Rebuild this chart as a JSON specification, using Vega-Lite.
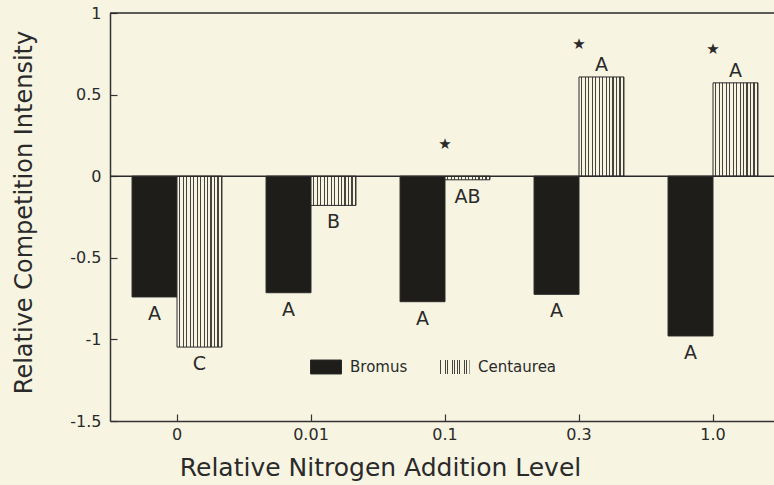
{
  "$schema": "https://vega.github.io/schema/vega-lite/v6.json",
  "autosize": {"type": "none"},
  "padding": {"left": 110, "top": 13, "right": 0, "bottom": 64},
  "width": 664,
  "height": 408,
  "background": "#f7f5e2",
  "config": {
    "view": {"stroke": null},
    "axis": {
      "labelFont": "DejaVu Sans",
      "titleFont": "DejaVu Sans",
      "labelColor": "#2a2a2a",
      "titleColor": "#2a2a2a",
      "titleFontWeight": "normal",
      "domainColor": "#333333",
      "domainWidth": 1.5,
      "tickColor": "#333333",
      "tickWidth": 1.2,
      "grid": false
    },
    "legend": {
      "title": null,
      "orient": "none",
      "direction": "horizontal",
      "padding": 0,
      "symbolType": "M-1,-0.45H1V0.45H-1Z",
      "symbolSize": 961,
      "symbolStrokeColor": "#2a2a2a",
      "symbolStrokeWidth": 1,
      "labelOffset": 8,
      "labelFont": "DejaVu Sans",
      "labelFontSize": 15,
      "labelColor": "#2a2a2a"
    },
    "text": {"font": "DejaVu Sans", "color": "#2a2a2a"}
  },
  "datasets": {
    "bars": [
      {"level": "0", "species": "Bromus", "value": -0.74, "letter": "A"},
      {"level": "0", "species": "Centaurea", "value": -1.047, "letter": "C"},
      {"level": "0.01", "species": "Bromus", "value": -0.714, "letter": "A"},
      {"level": "0.01", "species": "Centaurea", "value": -0.179, "letter": "B"},
      {"level": "0.1", "species": "Bromus", "value": -0.769, "letter": "A"},
      {"level": "0.1", "species": "Centaurea", "value": -0.022, "letter": "AB"},
      {"level": "0.3", "species": "Bromus", "value": -0.724, "letter": "A"},
      {"level": "0.3", "species": "Centaurea", "value": 0.608, "letter": "A"},
      {"level": "1.0", "species": "Bromus", "value": -0.979, "letter": "A"},
      {"level": "1.0", "species": "Centaurea", "value": 0.572, "letter": "A"}
    ],
    "stars": [
      {"level": "0.1", "star": 0.2},
      {"level": "0.3", "star": 0.812},
      {"level": "1.0", "star": 0.781}
    ],
    "frame": [
      {"y": 0},
      {"y": 1}
    ]
  },
  "layer": [
    {
      "data": {"name": "bars"},
      "transform": [{"filter": "datum.species === 'Bromus'"}],
      "mark": {"type": "bar", "stroke": "#2a2a2a", "strokeWidth": 1},
      "encoding": {
        "x": {
          "field": "level",
          "type": "nominal",
          "sort": ["0", "0.01", "0.1", "0.3", "1.0"],
          "scale": {"range": [0, 670], "paddingInner": 0, "paddingOuter": 0},
          "axis": {
            "title": "Relative Nitrogen Addition Level",
            "titleFontSize": 25,
            "titleX": 270,
            "titleY": 54,
            "titleBaseline": "alphabetic",
            "labelAngle": 0,
            "labelFontSize": 16,
            "labelPadding": 12,
            "tickSize": -7
          }
        },
        "xOffset": {
          "field": "species",
          "type": "nominal",
          "scale": {"domain": ["Bromus", "Centaurea"], "paddingInner": 0, "paddingOuter": 0.49}
        },
        "y": {
          "field": "value",
          "type": "quantitative",
          "scale": {"domain": [-1.5, 1], "nice": false, "zero": false},
          "axis": {
            "title": "Relative Competition Intensity",
            "titleFontSize": 24,
            "titleX": -79,
            "titleY": 199,
            "titleBaseline": "alphabetic",
            "values": [-1.5, -1, -0.5, 0, 0.5, 1],
            "labelExpr": "'' + datum.value",
            "labelFontSize": 16,
            "labelPadding": 16,
            "tickSize": -7
          }
        },
        "fill": {
          "field": "species",
          "type": "nominal",
          "scale": {"domain": ["Bromus"], "range": ["#1e1d1a"]},
          "legend": {"legendX": 200, "legendY": 338}
        }
      }
    },
    {
      "data": {"name": "bars"},
      "transform": [{"filter": "datum.species === 'Centaurea'"}],
      "mark": {
        "type": "bar",
        "stroke": "#2a2a2a",
        "strokeWidth": 1,
        "fill": {
          "gradient": "linear",
          "x1": 0, "y1": 0, "x2": 1, "y2": 0,
          "stops": [
            {"offset": 0, "color": "#f7f5e2"}, {"offset": 0.0523, "color": "#f7f5e2"}, {"offset": 0.0523, "color": "#45443f"}, {"offset": 0.0769, "color": "#45443f"},
            {"offset": 0.0769, "color": "#f7f5e2"}, {"offset": 0.1292, "color": "#f7f5e2"}, {"offset": 0.1292, "color": "#45443f"}, {"offset": 0.1538, "color": "#45443f"},
            {"offset": 0.1538, "color": "#f7f5e2"}, {"offset": 0.2062, "color": "#f7f5e2"}, {"offset": 0.2062, "color": "#45443f"}, {"offset": 0.2308, "color": "#45443f"},
            {"offset": 0.2308, "color": "#f7f5e2"}, {"offset": 0.2831, "color": "#f7f5e2"}, {"offset": 0.2831, "color": "#45443f"}, {"offset": 0.3077, "color": "#45443f"},
            {"offset": 0.3077, "color": "#f7f5e2"}, {"offset": 0.36, "color": "#f7f5e2"}, {"offset": 0.36, "color": "#45443f"}, {"offset": 0.3846, "color": "#45443f"},
            {"offset": 0.3846, "color": "#f7f5e2"}, {"offset": 0.4369, "color": "#f7f5e2"}, {"offset": 0.4369, "color": "#45443f"}, {"offset": 0.4615, "color": "#45443f"},
            {"offset": 0.4615, "color": "#f7f5e2"}, {"offset": 0.5138, "color": "#f7f5e2"}, {"offset": 0.5138, "color": "#45443f"}, {"offset": 0.5385, "color": "#45443f"},
            {"offset": 0.5385, "color": "#f7f5e2"}, {"offset": 0.5908, "color": "#f7f5e2"}, {"offset": 0.5908, "color": "#45443f"}, {"offset": 0.6154, "color": "#45443f"},
            {"offset": 0.6154, "color": "#f7f5e2"}, {"offset": 0.6677, "color": "#f7f5e2"}, {"offset": 0.6677, "color": "#45443f"}, {"offset": 0.6923, "color": "#45443f"},
            {"offset": 0.6923, "color": "#f7f5e2"}, {"offset": 0.7446, "color": "#f7f5e2"}, {"offset": 0.7446, "color": "#45443f"}, {"offset": 0.7692, "color": "#45443f"},
            {"offset": 0.7692, "color": "#f7f5e2"}, {"offset": 0.8215, "color": "#f7f5e2"}, {"offset": 0.8215, "color": "#45443f"}, {"offset": 0.8462, "color": "#45443f"},
            {"offset": 0.8462, "color": "#f7f5e2"}, {"offset": 0.8985, "color": "#f7f5e2"}, {"offset": 0.8985, "color": "#45443f"}, {"offset": 0.9231, "color": "#45443f"},
            {"offset": 0.9231, "color": "#f7f5e2"}, {"offset": 0.9754, "color": "#f7f5e2"}, {"offset": 0.9754, "color": "#45443f"}, {"offset": 1, "color": "#45443f"}
          ]
        }
      },
      "encoding": {
        "x": {"field": "level", "type": "nominal", "sort": ["0", "0.01", "0.1", "0.3", "1.0"]},
        "xOffset": {"field": "species", "type": "nominal", "scale": {"domain": ["Bromus", "Centaurea"]}},
        "y": {"field": "value", "type": "quantitative"},
        "opacity": {
          "field": "species",
          "type": "nominal",
          "scale": {"domain": ["Centaurea"], "range": [1]},
          "legend": {"legendX": 328, "legendY": 338}
        }
      }
    },
    {
      "data": {"name": "frame"},
      "mark": {"type": "rule", "color": "#2a2a2a", "strokeWidth": 1.5},
      "encoding": {
        "y": {"field": "y", "type": "quantitative"}
      }
    },
    {
      "data": {"name": "bars"},
      "transform": [{"filter": "datum.value < 0"}],
      "mark": {"type": "text", "fontSize": 19, "baseline": "top", "dy": 8},
      "encoding": {
        "x": {"field": "level", "type": "nominal", "sort": ["0", "0.01", "0.1", "0.3", "1.0"]},
        "xOffset": {"field": "species", "type": "nominal", "scale": {"domain": ["Bromus", "Centaurea"]}},
        "y": {"field": "value", "type": "quantitative"},
        "text": {"field": "letter"}
      }
    },
    {
      "data": {"name": "bars"},
      "transform": [{"filter": "datum.value >= 0"}],
      "mark": {"type": "text", "fontSize": 19, "baseline": "alphabetic", "dy": -6},
      "encoding": {
        "x": {"field": "level", "type": "nominal", "sort": ["0", "0.01", "0.1", "0.3", "1.0"]},
        "xOffset": {"field": "species", "type": "nominal", "scale": {"domain": ["Bromus", "Centaurea"]}},
        "y": {"field": "value", "type": "quantitative"},
        "text": {"field": "letter"}
      }
    },
    {
      "data": {"name": "stars"},
      "mark": {"type": "text", "fontSize": 15, "baseline": "middle", "text": "★"},
      "encoding": {
        "x": {"field": "level", "type": "nominal", "sort": ["0", "0.01", "0.1", "0.3", "1.0"]},
        "y": {"field": "star", "type": "quantitative"}
      }
    }
  ]
}
